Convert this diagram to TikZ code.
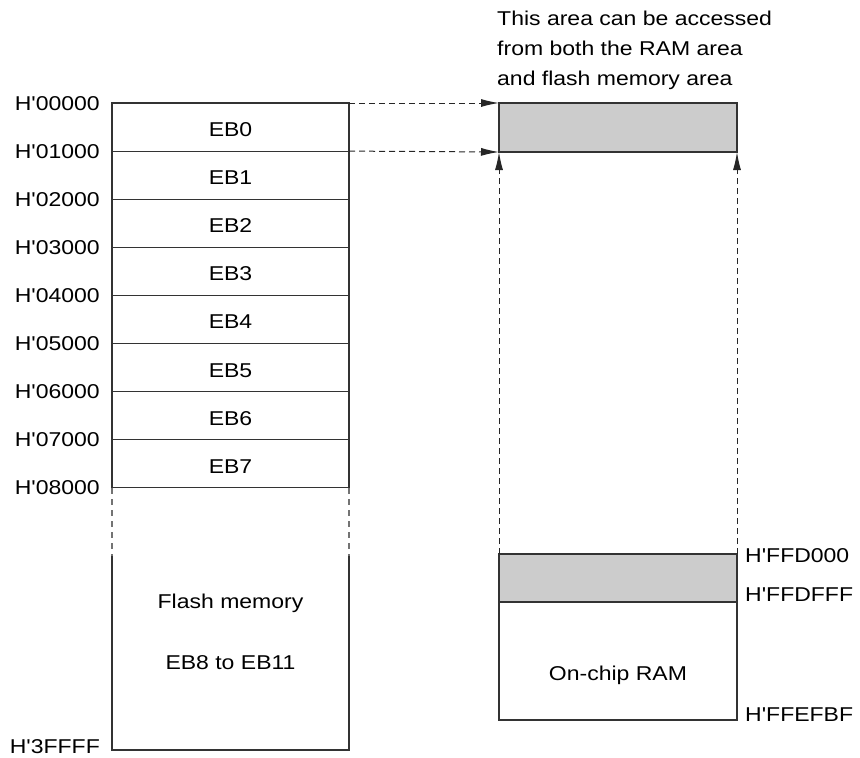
\documentclass[tikz,border=0pt]{standalone}
\usepackage{fontspec}
\setmainfont{Liberation Sans}[FakeStretch=1.15, Ligatures=TeXOff]
\usetikzlibrary{arrows.meta}
\begin{document}
\begin{tikzpicture}[x=1pt,y=-1pt,
  boxline/.style={draw=black!80, line width=1.2pt},
  lbl/.style={font=\fontsize{20}{30}\selectfont, inner sep=0pt},
  dasharrow/.style={draw=black!85, line width=1pt, dash pattern=on 6pt off 4pt,
    -{Latex[length=18pt,width=8pt]}},
  graydash/.style={draw=black!55, line width=1.2pt, dash pattern=on 6pt off 5pt},
  area/.style={boxline, fill=black!20, minimum width=238pt, anchor=north west, inner sep=0pt, outer sep=0pt},
  ramarea/.style={boxline, fill=white, minimum width=238pt, anchor=north west, inner sep=0pt, outer sep=0pt}
]
\useasboundingbox (0,0) rectangle (860,758);

% left flash box
\draw[boxline] (112,488) -- (112,103) -- (349,103) -- (349,488);
\draw[boxline] (112,556) -- (112,750) -- (349,750) -- (349,556);
\foreach \yy in {151.1,199.2,247.3,295.4,343.5,391.6,439.7,487.8}
  \draw[boxline] (112,\yy) -- (349,\yy);
\draw[graydash] (112,488) -- (112,556);
\draw[graydash] (349,488) -- (349,556);

% block labels
\node[lbl] (eb0) at (230.5,130) {EB0};
\node[lbl] (eb1) at (230.5,178) {EB1};
\node[lbl] (eb2) at (230.5,226) {EB2};
\node[lbl] (eb3) at (230.5,274) {EB3};
\node[lbl] (eb4) at (230.5,322) {EB4};
\node[lbl] (eb5) at (230.5,371) {EB5};
\node[lbl] (eb6) at (230.5,419) {EB6};
\node[lbl] (eb7) at (230.5,467) {EB7};
\node[lbl, anchor=base] (fm) at (230.5,608) {Flash memory};
\node[lbl, anchor=base] (fm2) at (230.5,669) {EB8 to EB11};

% addresses
\node[lbl, anchor=east] (a0) at (100,104) {H'00000};
\node[lbl, anchor=east] (a1) at (100,152) {H'01000};
\node[lbl, anchor=east] (a2) at (100,200) {H'02000};
\node[lbl, anchor=east] (a3) at (100,248) {H'03000};
\node[lbl, anchor=east] (a4) at (100,296) {H'04000};
\node[lbl, anchor=east] (a5) at (100,344) {H'05000};
\node[lbl, anchor=east] (a6) at (100,392) {H'06000};
\node[lbl, anchor=east] (a7) at (100,440) {H'07000};
\node[lbl, anchor=east] (a8) at (100,488) {H'08000};
\node[lbl, anchor=east] (a9) at (100,747) {H'3FFFF};

% right side
\node[area, minimum height=49pt] (win) at (499,103) {};
\node[area, minimum height=48pt] (ramgray) at (499,554) {};
\node[ramarea, minimum height=118pt] (ram) at (499,602) {};
\node[lbl, anchor=base] (ramtxt) at (618,680) {On-chip RAM};

\node[lbl, anchor=west] (r0) at (745,556) {H'FFD000};
\node[lbl, anchor=west] (r1) at (745,595) {H'FFDFFF};
\node[lbl, anchor=west] (r2) at (745,715) {H'FFEFBF};

\node[lbl, anchor=base west] (t1) at (497,25) {This area can be accessed};
\node[lbl, anchor=base west] (t2) at (497,55) {from both the RAM area};
\node[lbl, anchor=base west] (t3) at (497,85) {and flash memory area};

% connectors
\coordinate (s0) at (349,103);
\coordinate (s1) at (349,151.1);
\draw[dasharrow] (s0) -- (win.north west);
\draw[dasharrow] (s1) -- (win.south west);
\draw[dasharrow] (ramgray.north west) -- (win.south west);
\draw[dasharrow] (ramgray.north east) -- (win.south east);
\end{tikzpicture}
\end{document}
